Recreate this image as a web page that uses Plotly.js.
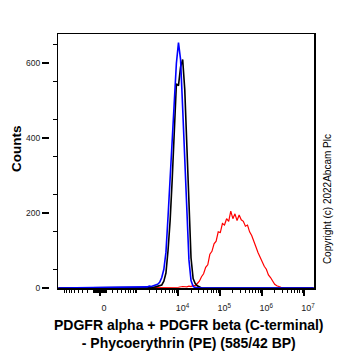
<!DOCTYPE html>
<html>
<head>
<meta charset="utf-8">
<script src="https://cdn.plot.ly/plotly-3.0.1.min.js"></script>
<style>html,body{margin:0;padding:0;background:#fff;}#chart{width:362px;height:351px;}</style>
</head>
<body>
<div id="chart"></div>
<script>
// Fluorescence intensity (PE) bin centres and event counts
const peakIntensity = [-1300, 1585, 1778, 1995, 2239, 2512, 2818, 3162, 3548, 3981, 4467, 5012, 5623, 6310, 7079, 7943, 8913, 10000, 11220, 12590, 14130, 15850, 17780, 19950, 22390, 25120, 28180, 31620, 35480, 17000000];
const blueCounts  = [0, 2, 3, 5, 4, 6, 8, 10, 15, 28, 50, 95, 190, 300, 400, 510, 600, 655, 610, 480, 345, 190, 75, 20, 4, 1, 0, 0, 0, 0];
const blackCounts = [0, 0, 0, 1, 1, 2, 3, 4, 5, 8, 18, 40, 100, 180, 290, 420, 545, 540, 590, 610, 530, 380, 210, 80, 25, 12, 6, 2, 0, 0];

const redIntensity = [-1300, 3981, 5012, 6310, 7943, 10000, 12590, 15850, 17780, 19950, 22390, 25120, 28180, 31620, 35480, 39810, 44670, 50120, 56230, 63100, 70790, 79430, 89130, 100000, 112200, 125900, 141300, 158500, 177800, 199500, 223900, 251200, 281800, 316200, 354800, 398100, 446700, 501200, 562300, 631000, 707900, 794300, 891300, 1000000, 1122000, 1259000, 1413000, 1585000, 1778000, 1995000, 2239000, 2512000, 2818000, 3162000, 3548000, 17000000];
const redCounts    = [0, 1, 2, 2, 3, 2, 4, 3, 5, 4, 7, 6, 12, 18, 30, 38, 55, 62, 90, 98, 118, 125, 150, 148, 172, 168, 185, 178, 205, 185, 198, 180, 195, 182, 178, 165, 168, 150, 140, 122, 110, 95, 82, 72, 58, 50, 35, 28, 18, 10, 6, 3, 2, 1, 0, 0];

const xTickValues = [0, 10000, 100000, 1000000, 10000000];
const xTickLabels = ['0', '10<sup>4</sup>', '10<sup>5</sup>', '10<sup>6</sup>', '10<sup>7</sup>'];
const yTickValues = [0, 200, 400, 600];
const yTickLabels = ['0', '200', '400', '600'];
const xTitle = 'PDGFR alpha + PDGFR beta (C-terminal)<br>- Phycoerythrin (PE) (585/42 BP)';
const yTitle = 'Counts';
const copyright = 'Copyright (c) 2022Abcam Plc';

// Biexponential-like (arcsinh) display scale used by the cytometry software
const W = 266;
const tf = v => Math.asinh(v / W);

const minorVals = [];
for (let k = 1; k <= 6; k++) {
  for (let m = 1; m <= 9; m++) {
    const v = m * Math.pow(10, k);
    minorVals.push(tf(v));
    if (k <= 2) minorVals.push(tf(-v));
  }
}

const traces = [
  {x: redIntensity.map(tf), y: redCounts, type: 'scatter', mode: 'lines', line: {color: '#ff0000', width: 1.2}, hoverinfo: 'skip', showlegend: false},
  {x: peakIntensity.map(tf), y: blackCounts, type: 'scatter', mode: 'lines', line: {color: '#000000', width: 1.6}, hoverinfo: 'skip', showlegend: false},
  {x: peakIntensity.map(tf), y: blueCounts, type: 'scatter', mode: 'lines', line: {color: '#0000ff', width: 1.6}, hoverinfo: 'skip', showlegend: false},
  {x: [], y: [], yaxis: 'y2', type: 'scatter', mode: 'lines', hoverinfo: 'skip', showlegend: false}
];

const PW = 362 - 40 - 48;
const boldFont = {color: '#000', family: 'Liberation Sans, Arial, sans-serif', weight: 'bold'};
const layout = {
  width: 362, height: 351,
  margin: {l: 40, r: 48, t: 34, b: 63, pad: 0},
  paper_bgcolor: '#ffffff', plot_bgcolor: '#ffffff',
  font: {family: 'Liberation Sans, Arial, sans-serif', color: '#000'},
  showlegend: false,
  xaxis: {
    domain: [18 / PW, 1],
    range: [tf(-1328), tf(17350000)],
    tickmode: 'array', tickvals: xTickValues.map(tf), ticktext: xTickLabels,
    ticks: 'outside', ticklen: 6, tickwidth: 2, tickcolor: '#000',
    minor: {tickmode: 'array', tickvals: minorVals, ticks: 'outside', ticklen: 3, tickwidth: 1, tickcolor: '#000'},
    tickfont: {size: 9, color: '#222'},
    ticklabelstandoff: 5, ticklabelshift: 4,
    showline: true, linecolor: '#000', linewidth: 1.5, mirror: true,
    showgrid: false, zeroline: false, fixedrange: true
  },
  yaxis: {
    range: [0, 678],
    showticklabels: false, ticks: '',
    minor: {dtick: 50, tick0: 0, ticks: 'outside', ticklen: 4, tickwidth: 1, tickcolor: '#000'},
    showline: true, linecolor: '#000', linewidth: 1.5, mirror: true,
    showgrid: false, zeroline: false, fixedrange: true
  },
  yaxis2: {
    overlaying: 'y', anchor: 'free', position: 9 / PW, side: 'left',
    range: [0, 678],
    tickmode: 'array', tickvals: yTickValues, ticktext: yTickLabels,
    ticks: 'outside', ticklen: 7, tickwidth: 2, tickcolor: '#000',
    tickfont: {size: 8.5, color: '#222'},
    showline: false, showgrid: false, zeroline: false, fixedrange: true
  },
  annotations: [
    {text: xTitle, xref: 'paper', yref: 'paper', x: 0.5, y: 0, xshift: 12, yshift: -27,
     xanchor: 'center', yanchor: 'top', showarrow: false, align: 'center',
     font: Object.assign({size: 14}, boldFont)},
    {text: yTitle, xref: 'paper', yref: 'paper', x: 0, y: 0.5, xshift: -24, yshift: 12,
     xanchor: 'center', yanchor: 'middle', textangle: -90, showarrow: false,
     font: Object.assign({size: 13.5}, boldFont)},
    {text: copyright, xref: 'paper', yref: 'paper', x: 1, y: 0.35,
     xanchor: 'center', yanchor: 'middle', xshift: 13, textangle: -90, showarrow: false,
     font: {size: 10, color: '#000', family: 'Liberation Sans, Arial, sans-serif'}}
  ]
};

Plotly.newPlot('chart', traces, layout, {staticPlot: true, displayModeBar: false});
</script>
</body>
</html>
